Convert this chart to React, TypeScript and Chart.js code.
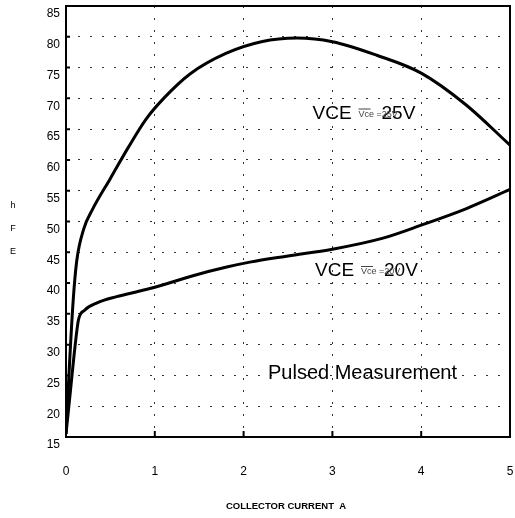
import { useEffect, useRef } from "react";
import { Chart, registerables } from "chart.js";

Chart.register(...registerables);

const xTickValues = [0, 1, 2, 3, 4, 5];
const yTickValues = [15, 20, 25, 30, 35, 40, 45, 50, 55, 60, 65, 70, 75, 80, 85];

const vce25Current = [0, 0.04, 0.08, 0.12, 0.2, 0.3, 0.5, 0.7, 0.9, 1.1, 1.4, 1.8, 2.2, 2.6, 3.0, 3.5, 4.0, 4.5, 5.0];
const vce25Hfe = [15.5, 27, 37, 43.5, 48.8, 52, 57, 62, 66.6, 70, 74, 77.3, 79.2, 79.8, 79.2, 77.0, 74.1, 69.0, 62.4];

const vce20Current = [0, 0.05, 0.1, 0.14, 0.21, 0.35, 0.57, 0.83, 1.02, 1.43, 1.81, 2.07, 2.5, 3.0, 3.57, 4.0, 4.51, 5.0];
const vce20Hfe = [15.5, 22.5, 29.5, 34, 35.6, 36.8, 37.8, 38.7, 39.4, 41.2, 42.6, 43.4, 44.4, 45.5, 47.3, 49.4, 52.1, 55.2];

const FONT = "'Liberation Sans', Arial, sans-serif";

const overlayPlugin = {
  id: "overlay",
  afterDraw(chart: any) {
    const { ctx, chartArea } = chart;
    const { left, right, top, bottom } = chartArea;
    const xs = chart.scales.x;
    const ys = chart.scales.y;
    ctx.save();
    ctx.strokeStyle = "#000";
    ctx.lineWidth = 2;
    ctx.setLineDash([]);
    ctx.strokeRect(left, top, right - left, bottom - top);
    ctx.beginPath();
    yTickValues.forEach((v) => {
      const p = ys.getPixelForValue(v);
      ctx.moveTo(left, p);
      ctx.lineTo(left + 4, p);
    });
    xTickValues.forEach((v) => {
      const p = xs.getPixelForValue(v);
      ctx.moveTo(p, bottom);
      ctx.lineTo(p, bottom - 6);
    });
    ctx.stroke();

    ctx.fillStyle = "#000";
    ctx.textBaseline = "alphabetic";
    ctx.textAlign = "left";

    const drawLabel = (x: number, y: number, val: string) => {
      ctx.fillStyle = "#000";
      ctx.font = `19px ${FONT}`;
      ctx.fillText("VCE", x, y);
      ctx.fillText(val, x + 69, y);
      ctx.fillStyle = "#444";
      ctx.font = `9px ${FONT}`;
      ctx.fillText("Vce =" + val, x + 46, y - 2);
      ctx.strokeStyle = "#444";
      ctx.lineWidth = 1;
      ctx.beginPath();
      ctx.moveTo(x + 46, y - 9.5);
      ctx.lineTo(x + 58, y - 9.5);
      ctx.stroke();
    };
    drawLabel(312.5, 118.5, "25V");
    drawLabel(315, 276, "20V");

    ctx.fillStyle = "#000";
    ctx.font = `20px ${FONT}`;
    ctx.fillText("Pulsed Measurement", 268, 378.5);

    ctx.font = `bold 9.5px ${FONT}`;
    ctx.textAlign = "center";
    ctx.fillText("COLLECTOR CURRENT  A", 286, 509);
    ctx.font = `9px ${FONT}`;
    ctx.fillText("h", 13, 208);
    ctx.fillText("F", 13, 231);
    ctx.fillText("E", 13, 254);
    ctx.restore();
  },
};

export default function App() {
  const ref = useRef<HTMLCanvasElement | null>(null);
  useEffect(() => {
    if (!ref.current) return;
    const chart = new Chart(ref.current, {
      type: "line",
      data: {
        datasets: [
          {
            label: "VCE = 25V",
            data: vce25Current.map((x, i) => ({ x, y: vce25Hfe[i] })),
            borderColor: "#000",
            borderWidth: 3,
            pointRadius: 0,
            cubicInterpolationMode: "monotone",
            fill: false,
          },
          {
            label: "VCE = 20V",
            data: vce20Current.map((x, i) => ({ x, y: vce20Hfe[i] })),
            borderColor: "#000",
            borderWidth: 3,
            pointRadius: 0,
            cubicInterpolationMode: "monotone",
            fill: false,
          },
        ],
      },
      options: {
        animation: false,
        responsive: true,
        maintainAspectRatio: false,
        layout: { padding: { top: 6, right: 5, left: 0, bottom: 0 } },
        plugins: { legend: { display: false }, tooltip: { enabled: false } },
        scales: {
          x: {
            type: "linear",
            min: 0,
            max: 5,
            afterBuildTicks: (s: any) => {
              s.ticks = xTickValues.map((v) => ({ value: v }));
            },
            afterFit: (s: any) => {
              s.height = 81;
              s.paddingLeft = 0;
              s.paddingRight = 0;
            },
            ticks: {
              font: { family: FONT, size: 12 },
              color: "#000",
              padding: 27,
              maxRotation: 0,
            },
            grid: { color: "#333", lineWidth: 1, drawTicks: false },
            border: { display: false, dash: [2, 10] },
          },
          y: {
            type: "linear",
            min: 15,
            max: 85,
            afterBuildTicks: (s: any) => {
              s.ticks = yTickValues.map((v) => ({ value: v }));
            },
            afterFit: (s: any) => {
              s.width = 66;
              s.paddingTop = 0;
              s.paddingBottom = 0;
            },
            ticks: {
              font: { family: FONT, size: 12 },
              color: "#000",
              padding: 6,
              labelOffset: 8,
            },
            grid: { color: "#333", lineWidth: 1, drawTicks: false },
            border: { display: false, dash: [2, 10] },
          },
        },
      },
      plugins: [overlayPlugin],
    });
    return () => chart.destroy();
  }, []);
  return (
    <div style={{ position: "fixed", left: 0, top: 0, width: 515, height: 518, background: "#fff" }}>
      <canvas ref={ref} />
    </div>
  );
}
